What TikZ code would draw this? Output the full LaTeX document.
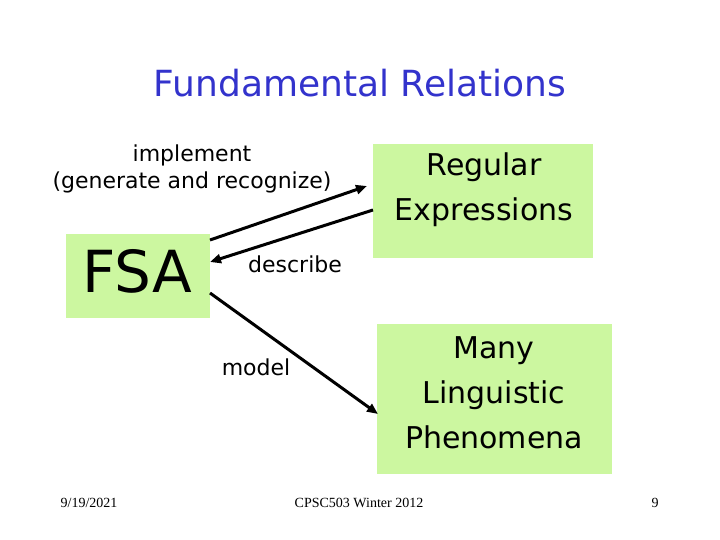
\documentclass[tikz,border=0pt]{standalone}
\usepackage{fontspec}
\setmainfont{DejaVu Sans}
\newfontfamily\footfont{Liberation Serif}
\usetikzlibrary{arrows.meta}
\definecolor{boxgreen}{RGB}{204,247,160}
\definecolor{titleblue}{RGB}{51,51,204}
\tikzset{
  gbox/.style={fill=boxgreen, draw=none, inner sep=0pt, align=center},
  lbl/.style={inner sep=0pt, align=center, font=\fontsize{22}{27}\selectfont},
  boxtxt/.style={font=\fontsize{30}{45}\selectfont},
  conn/.style={line width=3pt, -{Triangle[length=11pt,width=9pt]}},
  foot/.style={inner sep=0pt, font=\footfont\fontsize{14}{16}\selectfont}
}
\begin{document}
\begin{tikzpicture}[x=1pt,y=-1pt]
\useasboundingbox (0,0) rectangle (720,540);
\node[inner sep=0pt, text=titleblue, font=\fontsize{36}{42}\selectfont] (title) at (360,83) {Fundamental Relations};
% boxes
\node[gbox, minimum width=144pt, minimum height=84pt, anchor=north west] (fsa) at (66,234) {};
\node[font=\fontsize{58}{60}\selectfont, inner sep=0pt] (fsatxt) at (137,271) {FSA};
\node[gbox, minimum width=220pt, minimum height=114pt, anchor=north west] (re) at (373,144) {};
\node[boxtxt, inner sep=0pt, align=center] (retxt) at (484,190) {Regular\\Expressions};
\node[gbox, minimum width=235pt, minimum height=150pt, anchor=north west] (lp) at (377,324) {};
\node[boxtxt, inner sep=0pt, align=center] (lptxt) at (494,393) {Many\\Linguistic\\Phenomena};
% labels
\node[lbl] (impl) at (192,169) {implement\\(generate and recognize)};
\node[lbl] (desc) at (295,264) {describe};
\node[lbl] (mod) at (256,367) {model};
% connector end points
\coordinate (a1) at (210,240);
\coordinate (a2) at (367,186);
\coordinate (b1) at (373,210);
\coordinate (b2) at (210,262);
\coordinate (c1) at (210,293);
\coordinate (c2) at (378,414);
\draw[conn] (a1) -- (a2);
\draw[conn] (b1) -- (b2);
\draw[conn] (c1) -- (c2);
% footer
\node[foot] (date) at (89,503) {9/19/2021};
\node[foot] (course) at (359,503) {CPSC503 Winter 2012};
\node[foot] (page) at (655,503) {9};
\end{tikzpicture}
\end{document}
